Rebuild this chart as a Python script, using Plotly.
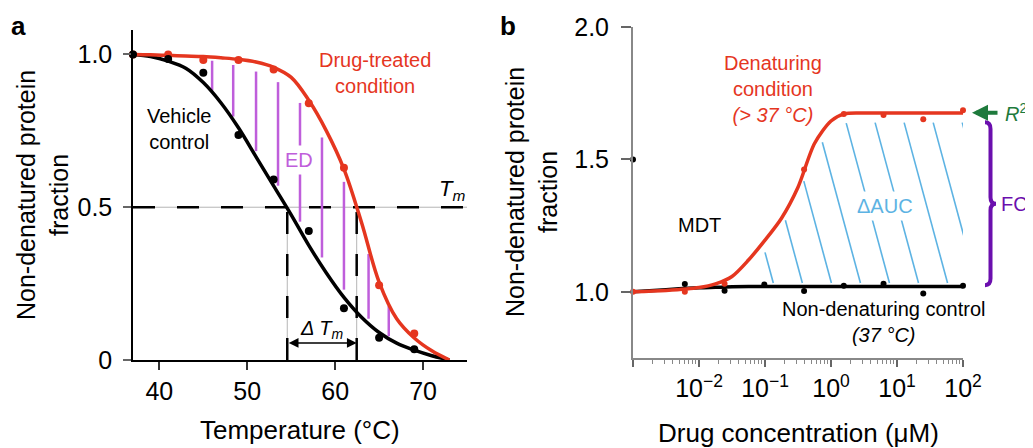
import numpy as np
import plotly.graph_objects as go

# ---- panel a: melting curves ----
temp = [37, 41, 45, 49, 53, 57, 61, 65, 69]
vehicle_pts = [1.0, 0.985, 0.94, 0.736, 0.591, 0.422, 0.169, 0.073, 0.035]
drug_pts = [1.0, 1.0, 0.982, 0.982, 0.951, 0.84, 0.629, 0.245, 0.087]

fit_temp = [37, 39, 41, 43, 45, 47, 49, 51, 53, 55, 57, 59, 61, 63, 65, 67, 69, 71, 73]
vehicle_fit = [1.0, 0.993, 0.978, 0.955, 0.908, 0.842, 0.76, 0.665, 0.57, 0.475, 0.375,
               0.285, 0.205, 0.14, 0.09, 0.055, 0.032, 0.014, 0.0]
drug_fit = [1.0, 0.999, 0.997, 0.995, 0.993, 0.989, 0.984, 0.975, 0.958, 0.925, 0.85,
            0.75, 0.625, 0.45, 0.255, 0.135, 0.072, 0.03, 0.0]

ed_temp = [46.0, 48.4, 51.0, 53.5, 56.0, 58.5, 61.0, 63.8, 66.1]
tm_vehicle = 54.55
tm_drug = 62.45

# ---- panel b: dose response ----
conc = [0.001, 0.0061, 0.0244, 0.0977, 0.391, 1.5625, 6.25, 25, 100]
nd_pts = [1.5, 1.029, 1.004, 1.028, 1.003, 1.023, 1.03, 0.994, 1.023]
den_pts = [1.0, 1.0, 1.03, None, 1.462, 1.671, 1.668, 1.652, 1.686]

fit_log = [-3, -2.5, -2, -1.75, -1.5, -1.25, -1, -0.75, -0.5, -0.25, 0, 0.2, 0.5, 1, 1.5, 2]
den_fit = [1.0, 1.005, 1.016, 1.03, 1.058, 1.12, 1.195, 1.278, 1.395, 1.56, 1.645, 1.672,
           1.675, 1.675, 1.675, 1.675]
nd_fit = [1.0, 1.008, 1.015, 1.017, 1.019, 1.02, 1.02, 1.02, 1.02, 1.02, 1.02, 1.02,
          1.02, 1.02, 1.02, 1.02]

mdt_conc = 0.1
mdt_level = 1.2
fc_low, fc_high = 1.025, 1.64

RED = '#E5361F'
BLACK = '#000000'
ED_PURPLE = '#BF5EDB'
BLUE = '#5DB3E3'
GREEN = '#1E7A3C'
FC_PURPLE = '#6B0FAE'
FONT = 'Liberation Sans, Arial, sans-serif'

W, H = 1033, 448
OFF = 8  # page body margin in the browser


def px(x):
    return (x - OFF) / W


def py(y):
    return 1 - (y - OFF) / H


fig = go.Figure()

# ED vertical lines between the two melting curves
ex, ey = [], []
for t in ed_temp:
    top = np.interp(t, fit_temp, drug_fit)
    bot = np.interp(t, fit_temp, vehicle_fit)
    gap = top - bot
    ex += [t, t, None]
    ey += [top - 0.1 * gap, bot + 0.06 * gap, None]
fig.add_trace(go.Scatter(x=ex, y=ey, mode='lines', line=dict(color=ED_PURPLE, width=2.5),
                         xaxis='x', yaxis='y', hoverinfo='skip'))

fig.add_trace(go.Scatter(x=fit_temp, y=vehicle_fit, mode='lines', line=dict(color=BLACK, width=3.5, shape='spline'),
                         xaxis='x', yaxis='y', cliponaxis=False))
fig.add_trace(go.Scatter(x=fit_temp, y=drug_fit, mode='lines', line=dict(color=RED, width=3.5, shape='spline'),
                         xaxis='x', yaxis='y', cliponaxis=False))
fig.add_trace(go.Scatter(x=temp, y=drug_pts, mode='markers', marker=dict(color=RED, size=8),
                         xaxis='x', yaxis='y', cliponaxis=False))
fig.add_trace(go.Scatter(x=temp, y=vehicle_pts, mode='markers', marker=dict(color=BLACK, size=8),
                         xaxis='x', yaxis='y', cliponaxis=False))

# dAUC hatching between denaturing curve and control line
fit_log_arr = np.array(fit_log)
hx, hy = [], []
v = np.linspace(1.0, 1.7, 701)
for k in range(9):
    xb = -0.86 + 0.44 * k
    lx = xb - 1.085 * (v - 1.02)
    upper = np.interp(lx, fit_log_arr, den_fit) - 0.035
    lower = np.interp(lx, fit_log_arr, nd_fit) + 0.012
    ok = (v > lower) & (v < upper) & (lx >= np.log10(mdt_conc)) & (lx <= 2.12)
    if ok.any():
        idx = np.where(ok)[0]
        hx += [10 ** lx[idx[0]], 10 ** lx[idx[-1]], None]
        hy += [v[idx[0]], v[idx[-1]], None]
fig.add_trace(go.Scatter(x=hx, y=hy, mode='lines', line=dict(color=BLUE, width=1.6),
                         xaxis='x2', yaxis='y2', cliponaxis=False, hoverinfo='skip'))

fit_conc = 10 ** fit_log_arr
fig.add_trace(go.Scatter(x=fit_conc, y=nd_fit, mode='lines', line=dict(color=BLACK, width=3.5, shape='spline'),
                         xaxis='x2', yaxis='y2', cliponaxis=False))
fig.add_trace(go.Scatter(x=fit_conc, y=den_fit, mode='lines', line=dict(color=RED, width=3.5, shape='spline', smoothing=0.8),
                         xaxis='x2', yaxis='y2', cliponaxis=False))
fig.add_trace(go.Scatter(x=conc, y=nd_pts, mode='markers', marker=dict(color=BLACK, size=6),
                         xaxis='x2', yaxis='y2', cliponaxis=False))
fig.add_trace(go.Scatter(x=conc, y=den_pts, mode='markers', marker=dict(color=RED, size=6),
                         xaxis='x2', yaxis='y2', cliponaxis=False))

# dashed guide lines (thin grey line under black dashes)
def guide(x0, y0, x1, y1, xref, yref, dash):
    fig.add_shape(type='line', x0=x0, y0=y0, x1=x1, y1=y1, xref=xref, yref=yref,
                  line=dict(color='#B5B5B5', width=1), layer='below')
    fig.add_shape(type='line', x0=x0, y0=y0, x1=x1, y1=y1, xref=xref, yref=yref,
                  line=dict(color=BLACK, width=2.5, dash=dash), layer='below')

guide(37, 0.5, 75, 0.5, 'x', 'y', '22px,22px')
guide(tm_vehicle, 0, tm_vehicle, 0.5, 'x', 'y', '22px,20px')
guide(tm_drug, 0, tm_drug, 0.5, 'x', 'y', '22px,20px')
guide(-3, mdt_level, np.log10(mdt_conc), mdt_level, 'x2', 'y2', '17px,20px')
guide(np.log10(mdt_conc), 0.75, np.log10(mdt_conc), mdt_level, 'x2', 'y2', '17px,20px')

# FC curly brace
bx0, bx1, bx2 = px(985), px(990.5), px(996)
mid = (fc_low + fc_high) / 2
d = 0.025
brace = (f'M {bx0},{fc_high} Q {bx1},{fc_high} {bx1},{fc_high - d} '
         f'L {bx1},{mid + d} Q {bx1},{mid} {bx2},{mid} '
         f'Q {bx1},{mid} {bx1},{mid - d} '
         f'L {bx1},{fc_low + d} Q {bx1},{fc_low} {bx0},{fc_low}')
fig.add_shape(type='path', path=brace, xref='paper', yref='y2',
              line=dict(color=FC_PURPLE, width=4))

ann = [
    dict(text='<b>a</b>', x=px(9), y=py(9), xref='paper', yref='paper', xanchor='left', yanchor='top',
         font=dict(size=26)),
    dict(text='<b>b</b>', x=px(498), y=py(9), xref='paper', yref='paper', xanchor='left', yanchor='top',
         font=dict(size=26)),
    dict(text='Non-denatured protein<br>fraction', x=px(42), y=py(195), xref='paper', yref='paper',
         textangle=-90, font=dict(size=25), xanchor='center', yanchor='middle'),
    dict(text='Temperature (°C)', x=px(300), y=py(430), xref='paper', yref='paper',
         font=dict(size=26), xanchor='center', yanchor='middle'),
    dict(text='Non-denatured protein<br>fraction', x=px(531), y=py(192), xref='paper', yref='paper',
         textangle=-90, font=dict(size=25), xanchor='center', yanchor='middle'),
    dict(text='Drug concentration (μM)', x=px(798), y=py(433), xref='paper', yref='paper',
         font=dict(size=26), xanchor='center', yanchor='middle'),
    dict(text='Drug-treated<br>condition', x=64.5, y=0.938, xref='x', yref='y', font=dict(size=20, color=RED)),
    dict(text='Vehicle<br>control', x=42.3, y=0.756, xref='x', yref='y', font=dict(size=20)),
    dict(text='ED', x=55.9, y=0.655, xref='x', yref='y', font=dict(size=20, color=ED_PURPLE),
         bgcolor='white', borderpad=3),
    dict(text='<i>T<sub>m</sub></i>', x=75, y=0.5, xref='x', yref='y', xanchor='right', yanchor='bottom',
         font=dict(size=22), yshift=1),
    dict(text='<i>Δ T<sub>m</sub></i>', x=58.45, y=0.1, xref='x', yref='y', font=dict(size=20)),
    dict(text='', x=tm_drug, y=0.056, ax=tm_vehicle, ay=0.056, xref='x', yref='y', axref='x', ayref='y',
         showarrow=True, arrowside='end+start', arrowhead=2, startarrowhead=2, arrowwidth=1.5,
         arrowsize=1.3, startarrowsize=1.3, arrowcolor=BLACK),
    dict(text='Denaturing<br>condition<br><i>(&gt; 37 °C)</i>', x=-0.88, y=1.766, xref='x2', yref='y2',
         font=dict(size=20, color=RED)),
    dict(text='MDT', x=-2.0, y=1.252, xref='x2', yref='y2', font=dict(size=20)),
    dict(text='Non-denaturing control<br><i>(37 °C)</i>', x=0.79, y=0.886, xref='x2', yref='y2',
         font=dict(size=20)),
    dict(text='ΔAUC', x=0.82, y=1.324, xref='x2', yref='y2', font=dict(size=20, color=BLUE),
         bgcolor='white', borderpad=3),
    dict(text='', x=px(972), y=1.676, xref='paper', yref='y2', ax=27, ay=0, showarrow=True,
         arrowhead=2, arrowwidth=4, arrowsize=0.8, arrowcolor=GREEN),
    dict(text='<i>R</i><sup>2</sup>', x=px(1003), y=1.679, xref='paper', yref='y2', xanchor='left',
         yanchor='middle', font=dict(size=20, color=GREEN)),
    dict(text='FC', x=px(999), y=mid, xref='paper', yref='y2', xanchor='left', yanchor='middle',
         font=dict(size=20, color=FC_PURPLE)),
]
for a in ann:
    a.setdefault('showarrow', False)
    fig.add_annotation(**a)

axis_common = dict(showgrid=False, zeroline=False, showline=True, ticks='outside', automargin=False,
                   tickfont=dict(size=25, color='black'))
minor_vals = [m * 10.0 ** e for e in range(-3, 2) for m in range(2, 10)]

fig.update_layout(
    width=W, height=H,
    margin=dict(l=0, r=0, t=0, b=0, pad=0, autoexpand=False),
    paper_bgcolor='white', plot_bgcolor='white',
    showlegend=False,
    font=dict(family=FONT, color='black'),
    xaxis=dict(domain=[px(133), px(467)], range=[37, 75], tickvals=[40, 50, 60, 70],
               linecolor='black', linewidth=1.5, ticklen=8, tickwidth=1.5, tickcolor='#333',
               anchor='y', **axis_common),
    yaxis=dict(domain=[py(360), py(30)], range=[0, 1.08], tickvals=[0, 0.5, 1.0],
               ticktext=['0', '0.5', '1.0'], linecolor='black', linewidth=1.5, ticklen=8,
               tickwidth=1.5, tickcolor='#666', ticklabelstandoff=6, anchor='x', **axis_common),
    xaxis2=dict(type='log', domain=[px(633), px(963)], range=[-3, 2],
                tickvals=[1e-3, 1e-2, 1e-1, 1, 10, 100],
                ticktext=['', '10<sup>−2</sup>', '10<sup>−1</sup>', '10<sup>0</sup>', '10<sup>1</sup>', '10<sup>2</sup>'],
                linecolor='#888', linewidth=2, ticklen=7, tickwidth=1.5, tickcolor='#666',
                minor=dict(tickvals=minor_vals, ticks='outside', ticklen=4, tickcolor='#888', tickwidth=1),
                anchor='y2', **axis_common),
    yaxis2=dict(domain=[py(358), py(27)], range=[0.75, 2.0], tickvals=[1.0, 1.5, 2.0],
                ticktext=['1.0', '1.5', '2.0'], linecolor='#888', linewidth=2, ticklen=10,
                tickwidth=1.5, tickcolor='#666', ticklabelstandoff=7, anchor='x2', **axis_common),
)

fig.write_html('out.html')
